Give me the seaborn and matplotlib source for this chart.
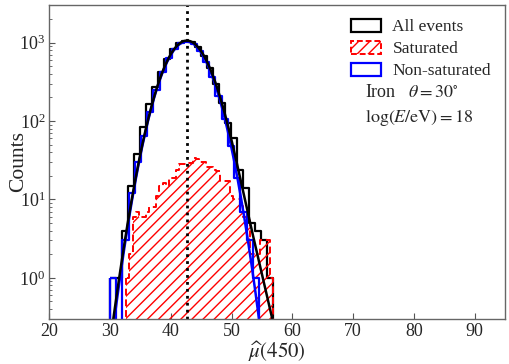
import numpy as np
import pandas as pd
import matplotlib
matplotlib.use("Agg")
import matplotlib.pyplot as plt
import seaborn as sns
from matplotlib.patches import Patch

# ---- data ----
all_edges = np.linspace(29.95, 56.83, 28)        # 27 bins
all_counts = [1, 1, 4, 15, 38, 85, 165, 270, 420, 620, 820, 980, 1060, 1020,
              880, 680, 480, 300, 170, 95, 60, 24, 14, 5, 4, 3, 1]

nonsat_edges = np.linspace(29.95, 54.5, 25)      # 24 bins
nonsat_counts = [1, 0, 3, 12, 30, 65, 130, 248, 418, 628, 835, 984, 1029,
                 953, 784, 570, 368, 211, 107, 48, 19, 7, 3, 1]

sat_edges = np.linspace(32.58, 56.83, 45)        # 44 bins
sat_counts = [1, 2, 6, 7, 6, 6, 7, 8, 8, 11, 15, 16, 15, 19, 19, 24, 28, 28,
              29, 29, 34, 33, 30, 30, 26, 26, 24, 23, 17, 17, 17, 11, 10, 10,
              9, 6, 6, 2, 2, 2, 3, 3, 3, 1]

# Gaussian fit parameters: amplitude, mean, sigma
fit_nonsat = (1030.0, 42.6, 2.95)
fit_sat = (30.0, 44.5, 4.0)
mean_line = 42.6

xlim = (20, 95)
ylim = (0.3, 3000)
xticks = [20, 30, 40, 50, 60, 70, 80, 90]

# ---- plotting ----
sns.set_style("ticks")
plt.rcParams["font.family"] = ["Liberation Serif", "DejaVu Serif"]
plt.rcParams["mathtext.fontset"] = "stix"
plt.rcParams["hatch.color"] = "red"
plt.rcParams["hatch.linewidth"] = 1.0

fig = plt.figure(figsize=(5.1, 3.64), dpi=100)
ax = fig.add_axes([0.097, 0.124, 0.893, 0.862])


def hist_df(edges, counts):
    e = np.asarray(edges, dtype=float)
    return pd.DataFrame({"x": 0.5 * (e[:-1] + e[1:]),
                         "w": np.asarray(counts, dtype=float)})


def step_hist(edges, counts, color, lw, ls="-", hatch=None):
    n0 = len(ax.collections)
    sns.histplot(data=hist_df(edges, counts), x="x", weights="w",
                 bins=list(edges), element="step", fill=True,
                 color=color, linewidth=lw, ax=ax)
    for coll in ax.collections[n0:]:
        coll.set_facecolor("none")
        coll.set_edgecolor(color)
        coll.set_linewidth(lw)
        coll.set_linestyle(ls)
        if hatch:
            coll.set_hatch(hatch)


step_hist(all_edges, all_counts, "black", 1.6)
step_hist(sat_edges, sat_counts, "red", 1.4, ls=(0, (3.5, 2)), hatch="///")
step_hist(nonsat_edges, nonsat_counts, "blue", 1.6)

xs = np.linspace(25, 60, 800)
g_ns = fit_nonsat[0] * np.exp(-0.5 * ((xs - fit_nonsat[1]) / fit_nonsat[2]) ** 2)
g_s = fit_sat[0] * np.exp(-0.5 * ((xs - fit_sat[1]) / fit_sat[2]) ** 2)
sns.lineplot(x=xs, y=g_ns, color="blue", linewidth=1.8, ax=ax)
sns.lineplot(x=xs, y=g_ns + g_s, color="black", linewidth=1.8, ax=ax)

ax.axvline(mean_line, color="black", linestyle=(0, (1, 1.5)), linewidth=2.0)

ax.set_yscale("log")
ax.set_xlim(*xlim)
ax.set_ylim(*ylim)
ax.set_xticks(xticks)
ax.set_xlabel(r"$\widehat{\mu}(450)$", fontsize=15, labelpad=0)
ax.set_ylabel("Counts", fontsize=15.5)
ax.yaxis.set_label_coords(-0.047, 0.5)
ax.tick_params(axis="both", which="both", direction="in", labelsize=13,
               color="#555555", pad=3)
ax.tick_params(axis="y", which="major", length=4)
ax.tick_params(axis="y", which="minor", length=2)
ax.tick_params(axis="x", which="major", length=4)
for s in ax.spines.values():
    s.set_color("#666666")
    s.set_linewidth(1.0)

handles = [
    Patch(facecolor="none", edgecolor="black", linewidth=1.6),
    Patch(facecolor="none", edgecolor="red", hatch="///", linewidth=1.4,
          linestyle=(0, (3, 1.5))),
    Patch(facecolor="none", edgecolor="blue", linewidth=1.6),
]
labels = ["All events", "Saturated", "Non-saturated"]
ax.legend(handles, labels, loc="upper right", frameon=False, fontsize=12.5,
          handlelength=1.75, handleheight=0.75, handletextpad=0.65,
          borderaxespad=0.5, borderpad=0.3, labelspacing=0.32)

ax.text(0.693, 0.723, r"Iron   $\theta = 30^{\circ}$", transform=ax.transAxes,
        fontsize=13, va="center", ha="left")
ax.text(0.693, 0.64, r"$\log(E/\mathrm{eV}) = 18$", transform=ax.transAxes,
        fontsize=13, va="center", ha="left")

fig.savefig("out.png", dpi=100)
